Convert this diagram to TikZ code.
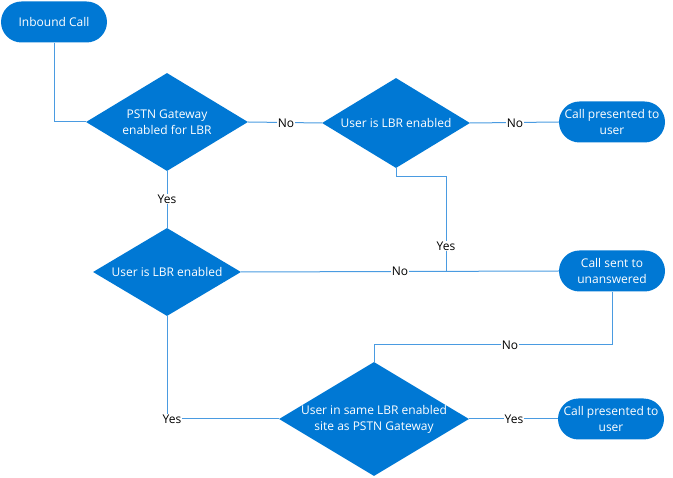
\documentclass[tikz,border=0pt]{standalone}
\usepackage{fontspec}
\setmainfont{Open Sans}
\usetikzlibrary{shapes.geometric}
\definecolor{boxblue}{RGB}{0,120,212}
\definecolor{lineblue}{RGB}{74,155,225}
\tikzset{
  pill/.style={rectangle, rounded corners=20.5pt, fill=boxblue, draw=none,
    minimum width=106pt, minimum height=41pt, inner sep=0pt, text=white,
    align=center, font=\fontsize{12}{16}\selectfont},
  dshape/.style={diamond, fill=boxblue, draw=none, inner sep=0pt},
  dtext/.style={text=white, align=center, font=\fontsize{12}{16}\selectfont, inner sep=0pt},
  conn/.style={draw=lineblue, line width=1pt},
  lbl/.style={fill=white, inner sep=1pt, text=black, font=\fontsize{12}{14}\selectfont}
}
\begin{document}
\begin{tikzpicture}[x=1pt,y=-1pt]
\useasboundingbox (0,0) rectangle (673,478);
% shapes
\node[pill] (start) at (54,22) {Inbound Call};
\node[dshape, minimum width=162pt, minimum height=98pt] (d1) at (167,122) {};
\node[dtext] at (d1) {PSTN Gateway\\enabled for LBR};
\node[dshape, minimum width=148pt, minimum height=90pt] (d3) at (396,123) {};
\node[dtext] at (d3) {User is LBR enabled};
\node[pill] (p1) at (612,122) {Call presented to\\user};
\node[dshape, minimum width=148pt, minimum height=88pt] (d2) at (167,272) {};
\node[dtext] at (d2) {User is LBR enabled};
\node[pill] (p2) at (612,271) {Call sent to\\unanswered};
\node[dshape, minimum width=190pt, minimum height=114pt] (d4) at (374,419) {};
\node[dtext] at (d4) {User in same LBR enabled\\site as PSTN Gateway};
\node[pill] (p3) at (611,419) {Call presented to\\user};
% helper coordinates
\coordinate (c1) at (54,122);
\coordinate (c2) at (396,177);
\coordinate (c3) at (446,177);
\coordinate (c4) at (446,271);
\coordinate (c5) at (612,345);
\coordinate (c6) at (374,345);
\coordinate (c7) at (167,419);
% connectors
\draw[conn] (start.south) -- (c1) -- (d1.west);
\draw[conn] (d1.east) -- (d3.west);
\draw[conn] (d3.east) -- (p1.west);
\draw[conn] (d1.south) -- (d2.north);
\draw[conn] (d2.east) -- (p2.west);
\draw[conn] (d3.south) -- (c2) -- (c3) -- (c4);
\draw[conn] (p2.south) -- (c5) -- (c6) -- (d4.north);
\draw[conn] (d2.south) -- (c7) -- (d4.west);
\draw[conn] (d4.east) -- (p3.west);
% labels
\node[lbl] (l1) at (286,123) {No};
\node[lbl] (l2) at (515,123) {No};
\node[lbl] (l3) at (167,199) {Yes};
\node[lbl] (l4) at (400,271) {No};
\node[lbl] (l5) at (446,246) {Yes};
\node[lbl] (l6) at (510,345) {No};
\node[lbl] (l7) at (172,419) {Yes};
\node[lbl] (l8) at (514,419) {Yes};
\end{tikzpicture}
\end{document}
